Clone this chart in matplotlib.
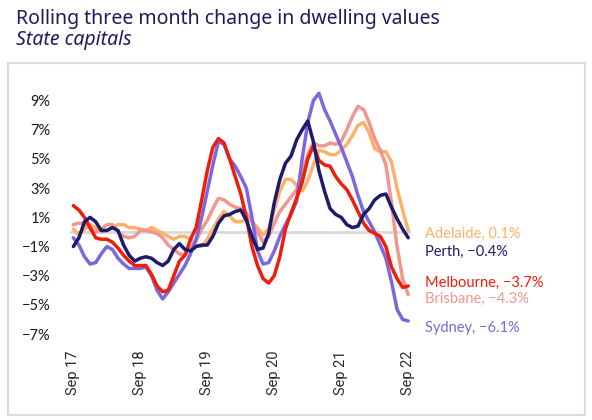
import matplotlib
matplotlib.use("Agg")
import matplotlib.pyplot as plt
from matplotlib.patches import Rectangle
import numpy as np

# ---------------- data (monthly, Sep 2017 .. Sep 2022) ----------------
tick_labels = ["Sep 17", "Sep 18", "Sep 19", "Sep 20", "Sep 21", "Sep 22"]
tick_months = [0, 12, 24, 36, 48, 60]

adelaide = [0.2, -0.2, 0.2, 0.5, 0.3, 0.0, 0.1, 0.3, 0.5, 0.5,
            0.3, 0.3, 0.2, 0.1, 0.3, 0.1, -0.1, -0.3, -0.5, -0.3,
            -0.3, -0.5, -0.9, -1.0, -0.5, 0.2, 0.9, 1.4, 1.1, 0.7,
            0.7, 0.9, 0.7, 0.3, -0.2, 0.2, 1.5, 2.8, 3.6, 3.6,
            3.2, 2.8, 3.5, 4.6, 5.6, 5.5, 5.3, 5.3, 5.6, 6.0,
            6.6, 7.3, 7.5, 6.8, 5.7, 5.5, 5.5, 4.8, 3.0, 1.5, 0.1]

perth = [-1.0, -0.4, 0.7, 1.0, 0.7, 0.1, 0.1, 0.3, 0.1, -0.9,
         -1.6, -2.0, -1.8, -1.7, -1.8, -2.1, -2.3, -2.0, -1.2, -0.8,
         -1.2, -1.3, -1.0, -0.9, -0.9, -0.3, 0.6, 1.1, 1.2, 1.4,
         1.5, 0.8, -0.3, -1.2, -1.1, -0.1, 2.0, 3.6, 4.7, 5.2,
         6.3, 7.0, 7.6, 6.2, 4.2, 2.8, 1.6, 1.2, 1.0, 0.5,
         0.3, 0.4, 1.2, 1.6, 2.2, 2.5, 2.6, 1.7, 0.9, 0.2, -0.4]

melbourne = [1.8, 1.5, 1.0, 0.3, -0.4, -0.5, -0.5, -0.7, -1.1, -1.6,
             -2.0, -2.3, -2.3, -2.3, -2.9, -3.7, -4.1, -4.0, -3.0, -2.0,
             -1.6, -0.5, 0.3, 2.2, 4.2, 5.8, 6.4, 6.1, 5.0, 3.8,
             2.6, 1.0, -1.0, -2.3, -3.2, -3.5, -3.0, -1.7, 0.2, 1.3,
             2.3, 3.4, 5.0, 5.9, 4.9, 4.6, 4.5, 3.8, 3.3, 2.9,
             2.2, 1.4, 0.6, 0.1, -0.1, -0.3, -1.0, -2.4, -3.2, -3.8, -3.7]

brisbane = [0.5, 0.6, 0.6, 0.2, 0.0, 0.2, 0.5, 0.5, 0.0, -0.3,
            -0.4, -0.3, 0.1, 0.1, 0.0, -0.1, -0.4, -0.9, -1.2, -1.5,
            -1.6, -1.1, -0.6, 0.2, 0.8, 1.6, 2.3, 2.2, 1.9, 1.7,
            1.6, 1.3, 0.7, 0.0, -0.7, -0.3, 0.6, 1.4, 1.9, 2.4,
            2.9, 4.0, 5.3, 6.1, 5.9, 5.9, 6.1, 6.0, 6.2, 7.0,
            7.9, 8.6, 8.4, 7.5, 6.4, 5.6, 4.6, 2.0, -1.0, -3.2, -4.3]

sydney = [-0.4, -0.9, -1.7, -2.2, -2.1, -1.5, -1.0, -1.2, -1.8, -2.2,
          -2.5, -2.5, -2.5, -2.4, -3.0, -4.0, -4.6, -4.1, -3.5, -2.9,
          -2.3, -1.5, -0.5, 1.0, 2.8, 4.6, 6.2, 6.0, 5.0, 4.5,
          3.8, 3.0, 1.0, -1.3, -2.2, -2.1, -1.3, -0.3, 0.5, 1.2,
          2.1, 5.0, 7.5, 9.0, 9.5, 8.4, 7.6, 6.7, 5.8, 4.8,
          3.8, 2.5, 1.4, 0.7, 0.0, -0.9, -1.8, -3.4, -5.3, -6.0, -6.1]

series_names = ["Adelaide", "Perth", "Melbourne", "Brisbane", "Sydney"]
series_values = [adelaide, perth, melbourne, brisbane, sydney]
end_labels = ["Adelaide, 0.1%", "Perth, \u22120.4%", "Melbourne, \u22123.7%",
              "Brisbane, \u22124.3%", "Sydney, \u22126.1%"]
y_ticks = [9, 7, 5, 3, 1, -1, -3, -5, -7]

# ---------------- style ----------------
colors = {"Adelaide": "#FFB169", "Perth": "#1D1B6B", "Melbourne": "#F01D0A",
          "Brisbane": "#F2968E", "Sydney": "#7C68DC"}
draw_order = ["Adelaide", "Brisbane", "Sydney", "Melbourne", "Perth"]
label_y = {"Adelaide": -0.15, "Perth": -1.35, "Melbourne": -3.5,
           "Brisbane": -4.6, "Sydney": -6.6}
navy = "#1E1B5C"
title_font = "Noto Sans"
font = "Lato"

W, H = 592, 420
fig = plt.figure(figsize=(W / 100, H / 100), dpi=100)

# outer light box
fig.patches.append(Rectangle((8 / W, 1 - 415 / H), 577 / W, 352 / H,
                             transform=fig.transFigure, fill=False,
                             edgecolor="#DADAE0", linewidth=1.5))

fig.text(16 / W, 1 - 24 / H, "Rolling three month change in dwelling values",
         fontsize=14, color=navy, family=title_font, ha="left", va="baseline")
fig.text(16 / W, 1 - 45 / H, "State capitals", fontsize=14, color=navy,
         family=title_font, style="italic", ha="left", va="baseline")

ax_left, ax_right = 70, 411
ax_top, ax_bot = 78.7, 356
ax = fig.add_axes([ax_left / W, 1 - ax_bot / H, (ax_right - ax_left) / W,
                   (ax_bot - ax_top) / H])
ax.set_xlim(-0.6, 60.5)
ax.set_ylim(-8.5, 10.5)
for s in ax.spines.values():
    s.set_visible(False)
ax.axhline(0, color="#D9D9D9", lw=2, zorder=1)

x = np.arange(len(adelaide))
name_to_vals = dict(zip(series_names, series_values))
for name in draw_order:
    ax.plot(x, name_to_vals[name], color=colors[name], lw=2.5, zorder=3,
            solid_joinstyle="round", solid_capstyle="round")

ax.set_yticks(y_ticks)
ax.set_yticklabels([f"{v}%".replace("-", "\u2212") for v in y_ticks],
                   fontsize=10.5, color="#1A1A1A", family=font)
ax.set_xticks(tick_months)
ax.set_xticklabels(tick_labels, rotation=90, fontsize=10.5, color="#2A2A2A",
                   family="Roboto")
ax.tick_params(axis="both", length=0)
ax.tick_params(axis="y", pad=14)
ax.tick_params(axis="x", pad=-4)

for name, lab in zip(series_names, end_labels):
    ax.text(60 + 17 / 5.58, label_y[name], lab, color=colors[name],
            fontsize=10.5, family=font, ha="left", va="center",
            clip_on=False)

fig.savefig("out.png", dpi=100)
